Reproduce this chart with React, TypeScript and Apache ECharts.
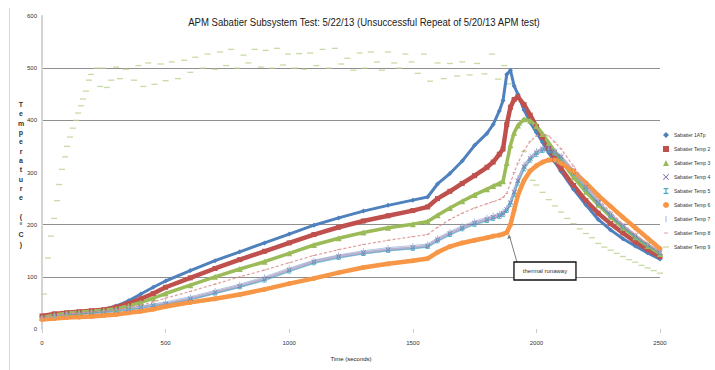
import React, { useEffect, useRef } from "react";
import * as echarts from "echarts";

const chartTitle = "APM Sabatier Subsystem Test: 5/22/13 (Unsuccessful Repeat of 5/20/13 APM test)";
const xAxisTitle = "Time (seconds)";
const yAxisTitle = "Temperature (°C)";
const annotationText = "thermal runaway";

const seriesNames = [
  "Sabatier 1ATp",
  "Sabatier Temp 2",
  "Sabatier Temp 3",
  "Sabatier Temp 4",
  "Sabatier Temp 5",
  "Sabatier Temp 6",
  "Sabatier Temp 7",
  "Sabatier Temp 8",
  "Sabatier Temp 9",
];

const times = [
  0, 50, 100, 150, 200, 250, 300, 350, 400, 450, 500, 600, 700, 800, 900, 1000, 1100, 1200, 1300, 1400, 1500,
  1560, 1600, 1650, 1700, 1750, 1800, 1825, 1850, 1865, 1880, 1895, 1910, 1925, 1950, 1975, 2000, 2025, 2050,
  2075, 2100, 2150, 2200, 2250, 2300, 2350, 2400, 2450, 2500,
];

const sabatier1ATp = [
  22, 26, 29, 31, 34, 37, 44, 54, 67, 80, 92, 112, 131, 148, 165, 182, 199, 213, 226, 237, 247,
  253, 278, 298, 322, 352, 375, 392, 418, 438, 488, 496, 466, 450, 420, 396, 377, 358, 338,
  320, 302, 268, 238, 210, 190, 173, 159, 146, 134,
];
const sabatierTemp2 = [
  25, 29, 31, 33, 35, 37, 42, 49, 58, 68, 80, 98, 116, 133, 149, 165, 181, 195, 207, 217, 227,
  234, 250, 264, 279, 294, 310, 320, 335, 345, 392, 425, 440, 445, 430, 410, 388, 368, 346,
  326, 307, 275, 246, 222, 202, 184, 167, 152, 139,
];
const sabatierTemp3 = [
  22, 27, 30, 32, 34, 36, 39, 44, 51, 59, 68, 84, 100, 115, 129, 145, 161, 174, 185, 194, 201,
  206, 218, 232, 245, 257, 268, 274, 279, 283, 318, 352, 376, 390, 402, 399, 389, 374, 357,
  340, 323, 291, 263, 238, 215, 194, 176, 159, 144,
];
const sabatierTemp4 = [
  20, 24, 27, 29, 31, 33, 35, 38, 42, 45, 48, 58, 70, 82, 96, 113, 129, 139, 146, 152, 156,
  159, 171, 183, 194, 203, 210, 214, 218, 222, 229, 242, 262, 284, 311, 327, 338, 345, 346,
  340, 330, 302, 272, 243, 219, 198, 179, 162, 147,
];
const sabatierTemp5 = [
  20, 23, 26, 28, 30, 32, 34, 37, 40, 44, 47, 56, 68, 80, 93, 110, 126, 136, 144, 150, 154,
  157, 168, 180, 191, 200, 207, 211, 215, 219, 226, 238, 257, 279, 306, 323, 334, 341, 342,
  336, 325, 298, 268, 240, 216, 195, 176, 160, 145,
];
const sabatierTemp6 = [
  18, 20, 22, 23, 24, 26, 28, 31, 34, 38, 43, 51, 58, 66, 76, 87, 97, 108, 118, 125, 131,
  135, 147, 158, 165, 170, 175, 178, 180, 182, 185, 200, 228, 256, 285, 303, 313, 320, 324,
  324, 318, 302, 280, 256, 235, 214, 194, 174, 154,
];
const sabatierTemp7 = [
  21, 25, 28, 30, 32, 34, 36, 40, 44, 48, 52, 62, 74, 86, 100, 117, 132, 142, 150, 156, 160,
  163, 175, 187, 198, 207, 214, 218, 222, 226, 233, 247, 268, 290, 316, 331, 342, 348, 348,
  342, 332, 304, 274, 246, 221, 199, 180, 163, 148,
];
const sabatierTemp8 = [
  23, 27, 29, 31, 33, 35, 37, 41, 46, 52, 59, 72, 86, 100, 113, 127, 141, 152, 162, 170, 177,
  181, 195, 210, 222, 232, 240, 244, 248, 252, 260, 280, 300, 318, 342, 360, 370, 374, 370,
  358, 345, 312, 279, 249, 224, 201, 181, 163, 146,
];

const temp9Times = [
  8, 24, 36, 49, 61, 69, 81, 93, 101, 113, 125, 138, 146, 158, 166, 178, 190, 198, 222, 235, 247, 262, 280,
  300, 315, 340, 372, 390, 410, 430, 455, 480, 500, 525, 550, 575, 600, 620, 650, 670, 700, 720, 745, 765,
  790, 815, 835, 860, 885, 905, 930, 950, 975, 995, 1020, 1040, 1060, 1085, 1110, 1135, 1160, 1185, 1210,
  1235, 1260, 1285, 1305, 1330, 1355, 1375, 1400, 1425, 1445, 1470, 1495, 1520, 1545, 1570, 1600, 1625,
  1650, 1680, 1700, 1730, 1760, 1790, 1820, 1845, 1870, 1890, 1910, 1930, 1950, 1970, 1985, 2000, 2025,
  2050, 2075, 2100, 2125, 2150, 2175, 2200, 2225, 2250, 2275, 2300, 2325, 2350, 2375, 2400, 2425, 2450,
  2475, 2500,
];
const temp9Values = [
  67, 136, 178, 212, 246, 277, 306, 330, 350, 368, 385, 400, 414, 428, 441, 456, 477, 488, 500, 465, 500, 463, 477,
  502, 480, 498, 477, 505, 465, 510, 469, 508, 476, 512, 480, 515, 492, 521, 500, 527, 498, 531, 505, 536,
  500, 525, 510, 536, 502, 534, 500, 538, 506, 527, 500, 528, 498, 529, 505, 536, 500, 538, 508,
  519, 496, 529, 500, 531, 512, 496, 531, 510, 500, 527, 512, 490, 527, 475, 510, 480,
  509, 485, 512, 487, 509, 489, 527, 479, 505, 470, 440, 390, 340, 305, 285, 276, 262,
  248, 236, 224, 212, 202, 192, 183, 175, 164, 157, 151, 145, 139, 133, 128, 122, 117,
  112, 107,
];

const xTicks = [0, 500, 1000, 1500, 2000, 2500];
const yTicks = [0, 100, 200, 300, 400, 500, 600];
const yGridShown = [false, true, true, false, true, true, false];
const runawayPoint = [1885, 184];

const colors = ["#4F81BD", "#C0504D", "#9BBB59", "#8064A2", "#4BACC6", "#F79646", "#95B3D7", "#D99694", "#BCD28F"];

const X_PATH = "path://M0,1L1,0L5,4L9,0L10,1L6,5L10,9L9,10L5,6L1,10L0,9L4,5Z";
const IBEAM_PATH = "path://M1,0H9V2H6V8H9V10H1V8H4V2H1Z";
const BAR_PATH = "path://M0,0M10,10M4.2,0H5.8V10H4.2Z";
const DASH8_PATH = "path://M0,0M10,10M2,4.2H8V5.8H2Z";
const DASH9_PATH = "path://M0,0M10,10M0,3.9H10V6.1H0Z";
const symbols = ["diamond", "rect", "triangle", X_PATH, IBEAM_PATH, "circle", BAR_PATH, DASH8_PATH, DASH9_PATH];

const FONT = "'Liberation Sans', Arial, sans-serif";

export default function App() {
  const ref = useRef<HTMLDivElement>(null);

  useEffect(() => {
    if (!ref.current) return;
    const chart = echarts.init(ref.current, null, { renderer: "svg" });

    const lineSeriesData = [
      sabatier1ATp,
      sabatierTemp2,
      sabatierTemp3,
      sabatierTemp4,
      sabatierTemp5,
      sabatierTemp6,
      sabatierTemp7,
      sabatierTemp8,
    ];
    const lineWidths = [3, 4.5, 3.5, 3, 1.5, 4.5, 1, 1.2];
    const symbolSizes = [5, 5, 6, 5, 4, 5, 5, 5];
    const lineOpacity = [1, 1, 1, 0.5, 0.6, 1, 0.7, 0.9];

    const series: any[] = lineSeriesData.map((vals, i) => ({
      type: "line",
      name: seriesNames[i],
      data: times.map((t, j) => [t, vals[j]]),
      symbol: symbols[i],
      symbolSize: symbolSizes[i],
      showSymbol: true,
      showAllSymbol: true,
      lineStyle: {
        color: colors[i],
        width: lineWidths[i],
        opacity: lineOpacity[i],
        type: i === 7 ? [3, 2] : "solid",
      },
      itemStyle: { color: colors[i] },
      emphasis: { disabled: true },
    }));
    series.push({
      type: "scatter",
      name: seriesNames[8],
      data: temp9Times.map((t, j) => [t, temp9Values[j]]),
      symbol: symbols[8],
      symbolSize: 6,
      itemStyle: { color: colors[8] },
      emphasis: { disabled: true },
    });

    chart.setOption({
      animation: false,
      backgroundColor: "#ffffff",
      legend: {
        orient: "vertical",
        left: 663,
        top: 132,
        padding: 0,
        itemWidth: 6,
        itemHeight: 6,
        itemGap: 8,
        selectedMode: false,
        textStyle: { fontFamily: FONT, fontSize: 5, lineHeight: 6, color: "#333", overflow: "none" },
        data: seriesNames.map((n, i) => ({ name: n, icon: symbols[i] })),
      },
      grid: { left: 42, right: 55, top: 16, bottom: 41, containLabel: false },
      xAxis: {
        type: "value",
        min: xTicks[0],
        max: xTicks[xTicks.length - 1],
        interval: 500,
        name: xAxisTitle,
        nameLocation: "middle",
        nameGap: 27,
        nameTextStyle: { fontFamily: FONT, fontSize: 6, color: "#222" },
        axisLine: { show: false },
        axisTick: { show: true, length: 4, inside: false, lineStyle: { color: "#cccccc" } },
        axisLabel: {
          fontFamily: FONT,
          fontSize: 6,
          color: "#333",
          margin: 11,
          formatter: (v: number) => String(v),
        },
        splitLine: { show: false },
      },
      yAxis: {
        type: "value",
        min: yTicks[0],
        max: yTicks[yTicks.length - 1],
        interval: 100,
        axisLine: { show: true, lineStyle: { color: "#d4d4d4", width: 2 } },
        axisTick: { show: false },
        axisLabel: { fontFamily: FONT, fontSize: 6, color: "#333", margin: 5, formatter: (v: number) => String(v) },
        splitLine: {
          show: true,
          lineStyle: { color: yGridShown.map((s) => (s ? "#8f8f8f" : "rgba(0,0,0,0)")), width: 1 },
        },
      },
      series,
    });

    const pt = chart.convertToPixel({ gridIndex: 0 }, runawayPoint) as number[];
    const px = pt[0];
    const py = pt[1];
    chart.setOption({
      graphic: [
        {
          type: "text",
          x: 364,
          y: 22,
          scaleX: 0.87,
          style: {
            text: chartTitle,
            fontFamily: FONT,
            fontSize: 11,
            fill: "#1a1a1a",
            align: "center",
            verticalAlign: "middle",
          },
          silent: true,
        },
        {
          type: "line",
          shape: { x1: 9.5, y1: 8, x2: 9.5, y2: 370 },
          style: { stroke: "#d6d6d6", lineWidth: 1 },
          silent: true,
        },
        {
          type: "text",
          x: 21,
          y: 100,
          style: {
            text: yAxisTitle.split("").join("\n"),
            fontFamily: FONT,
            fontSize: 7,
            fontWeight: "bold",
            lineHeight: 9.3,
            align: "center",
            fill: "#333",
          },
          silent: true,
        },
        {
          type: "line",
          shape: { x1: px + 9, y1: py + 29, x2: px + 1.5, y2: py + 3 },
          style: { stroke: "#7f7f7f", lineWidth: 1 },
          silent: true,
        },
        {
          type: "polygon",
          shape: { points: [[px + 1, py + 1], [px - 0.8, py + 6], [px + 3, py + 5]] },
          style: { fill: "#7f7f7f" },
          silent: true,
        },
        {
          type: "rect",
          shape: { x: px + 6, y: py + 29, width: 62, height: 18 },
          style: { fill: "#ffffff", stroke: "#111", lineWidth: 1.3 },
          silent: true,
        },
        {
          type: "text",
          x: px + 37,
          y: py + 38,
          style: {
            text: annotationText,
            fontFamily: FONT,
            fontSize: 6,
            fill: "#333",
            align: "center",
            verticalAlign: "middle",
          },
          silent: true,
        },
      ],
    });

    return () => chart.dispose();
  }, []);

  return (
    <div
      ref={ref}
      style={{ position: "fixed", left: 0, top: 0, width: 715, height: 370, background: "#fff" }}
    />
  );
}
